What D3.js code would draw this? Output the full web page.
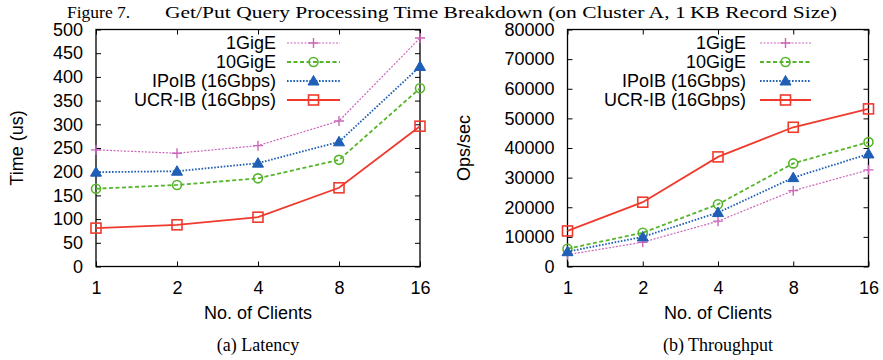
<!DOCTYPE html>
<html>
<head>
<meta charset="utf-8">
<script src="https://cdn.jsdelivr.net/npm/d3@7/dist/d3.min.js"></script>
<style>
html,body{margin:0;padding:0;background:#fff;}
svg{display:block;}
</style>
</head>
<body>
<svg id="c" width="883" height="360"></svg>
<script>
// ---------- data ----------
const clients = ["1", "2", "4", "8", "16"];
const seriesNames = ["1GigE", "10GigE", "IPoIB (16Gbps)", "UCR-IB (16Gbps)"];

const latency1GigE  = [246, 239, 255, 307, 482];
const latency10GigE = [164, 172, 186, 225, 376];
const latencyIPoIB  = [199, 201, 218, 263, 422];
const latencyUCRIB  = [81, 88, 104, 166, 296];

const tput1GigE  = [4000, 8200, 15300, 25600, 32600];
const tput10GigE = [6000, 11400, 21000, 34800, 42000];
const tputIPoIB  = [5000, 10000, 18200, 30000, 38000];
const tputUCRIB  = [12000, 21700, 37000, 47000, 53200];

const latencyTicks = [0, 50, 100, 150, 200, 250, 300, 350, 400, 450, 500];
const tputTicks = [0, 10000, 20000, 30000, 40000, 50000, 60000, 70000, 80000];

const titleLead = "Figure 7.";
const titleText = "Get/Put Query Processing Time Breakdown (on Cluster A, 1\u2009KB Record Size)";

// ---------- styles ----------
const styles = [
  {color: "#cc66bb", dash: "2,1.5", width: 1.2, marker: "plus"},
  {color: "#55b52a", dash: "4,2.5", width: 1.8, marker: "circle"},
  {color: "#1f5fb5", dash: "1.6,1.6", width: 1.8, marker: "triangle"},
  {color: "#f03a2e", dash: null, width: 1.8, marker: "square"}
];

const svg = d3.select("#c");
const sans = "'Liberation Sans', Arial, Helvetica, sans-serif";
const serif = "'Liberation Serif', 'Times New Roman', serif";

// Title
svg.append("text").attr("x", 67).attr("y", 17.5)
  .attr("font-family", serif).attr("font-size", 17.5).attr("fill", "#000")
  .text(titleLead);
svg.append("text").attr("x", 165).attr("y", 17.5)
  .attr("font-family", serif).attr("font-size", 17.5).attr("fill", "#000")
  .attr("textLength", 672).attr("lengthAdjust", "spacingAndGlyphs")
  .text(titleText);

function drawMarker(g, type, x, y, color) {
  if (type === "plus") {
    g.append("path").attr("d", `M${x-5},${y}H${x+5}M${x},${y-5}V${y+5}`)
      .attr("stroke", color).attr("stroke-width", 1.4).attr("fill", "none");
  } else if (type === "circle") {
    g.append("circle").attr("cx", x).attr("cy", y).attr("r", 4.5)
      .attr("stroke", color).attr("stroke-width", 1.6).attr("fill", "none");
  } else if (type === "triangle") {
    g.append("path").attr("d", `M${x},${y-5.5}L${x+5.5},${y+4}L${x-5.5},${y+4}Z`)
      .attr("fill", color).attr("stroke", color).attr("stroke-width", 1);
  } else if (type === "square") {
    g.append("rect").attr("x", x-5).attr("y", y-5).attr("width", 10).attr("height", 10)
      .attr("stroke", color).attr("stroke-width", 1.6).attr("fill", "none");
  }
}

function panel(opts) {
  const {left, right, top, bottom, yMax, ticks, data, yTitle, yTitleX, caption, legendTextX, legendLineX0, legendLineX1} = opts;
  const x = d3.scalePoint().domain(clients).range([left, right]);
  const y = d3.scaleLinear().domain([0, yMax]).range([bottom, top]);
  const g = svg.append("g");

  // frame
  g.append("rect").attr("x", left).attr("y", top)
    .attr("width", right - left).attr("height", bottom - top)
    .attr("fill", "none").attr("stroke", "#000").attr("stroke-width", 1.3);

  const tl = 5;
  const yAxisL = d3.axisLeft(y).tickValues(ticks).tickSize(-tl).tickPadding(8 + tl).tickFormat(d3.format("d"));
  const ga = g.append("g").attr("transform", `translate(${left},0)`).call(yAxisL);
  const yAxisR = d3.axisRight(y).tickValues(ticks).tickSize(-tl).tickFormat("");
  const gb = g.append("g").attr("transform", `translate(${right},0)`).call(yAxisR);
  const xAxisB = d3.axisBottom(x).tickSize(-tl).tickPadding(10 + tl);
  const gc = g.append("g").attr("transform", `translate(0,${bottom})`).call(xAxisB);
  const xAxisT = d3.axisTop(x).tickSize(-tl).tickFormat("");
  const gd = g.append("g").attr("transform", `translate(0,${top})`).call(xAxisT);
  [ga, gb, gc, gd].forEach(a => {
    a.select(".domain").remove();
    a.selectAll("line").attr("stroke", "#000").attr("stroke-width", 1);
    a.selectAll("text").attr("font-family", sans).attr("font-size", 18).attr("fill", "#000");
  });
  gc.selectAll("text").attr("dy", "0.71em");

  g.append("text")
    .attr("transform", `translate(${yTitleX},${(top + bottom) / 2}) rotate(-90)`)
    .attr("text-anchor", "middle").attr("font-family", sans).attr("font-size", 18)
    .text(yTitle);
  g.append("text").attr("x", (left + right) / 2).attr("y", 319)
    .attr("text-anchor", "middle").attr("font-family", sans).attr("font-size", 18)
    .text("No. of Clients");
  g.append("text").attr("x", (left + right) / 2).attr("y", 351)
    .attr("text-anchor", "middle").attr("font-family", serif).attr("font-size", 18)
    .text(caption);

  data.forEach((vals, i) => {
    const st = styles[i];
    const line = d3.line().x((d, j) => x(clients[j])).y(d => y(d));
    g.append("path").datum(vals).attr("d", line)
      .attr("fill", "none").attr("stroke", st.color).attr("stroke-width", st.width)
      .attr("stroke-dasharray", st.dash);
    vals.forEach((v, j) => drawMarker(g, st.marker, x(clients[j]), y(v), st.color));
  });

  seriesNames.forEach((name, i) => {
    const st = styles[i];
    const ly = 43 + i * 19;
    g.append("text").attr("x", legendTextX).attr("y", ly).attr("dy", "0.36em")
      .attr("text-anchor", "end").attr("font-family", sans).attr("font-size", 18)
      .text(name);
    g.append("line").attr("x1", legendLineX0).attr("x2", legendLineX1)
      .attr("y1", ly).attr("y2", ly)
      .attr("stroke", st.color).attr("stroke-width", st.width)
      .attr("stroke-dasharray", st.dash);
    drawMarker(g, st.marker, (legendLineX0 + legendLineX1) / 2, ly, st.color);
  });
}

panel({
  left: 96, right: 420, top: 29.5, bottom: 266.5, yMax: 500, ticks: latencyTicks,
  data: [latency1GigE, latency10GigE, latencyIPoIB, latencyUCRIB],
  yTitle: "Time (us)", yTitleX: 23, caption: "(a) Latency",
  legendTextX: 276, legendLineX0: 287, legendLineX1: 340
});
panel({
  left: 567.5, right: 868.5, top: 29.5, bottom: 266.5, yMax: 80000, ticks: tputTicks,
  data: [tput1GigE, tput10GigE, tputIPoIB, tputUCRIB],
  yTitle: "Ops/sec", yTitleX: 470, caption: "(b) Throughput",
  legendTextX: 746, legendLineX0: 760, legendLineX1: 811
});
</script>
</body>
</html>
